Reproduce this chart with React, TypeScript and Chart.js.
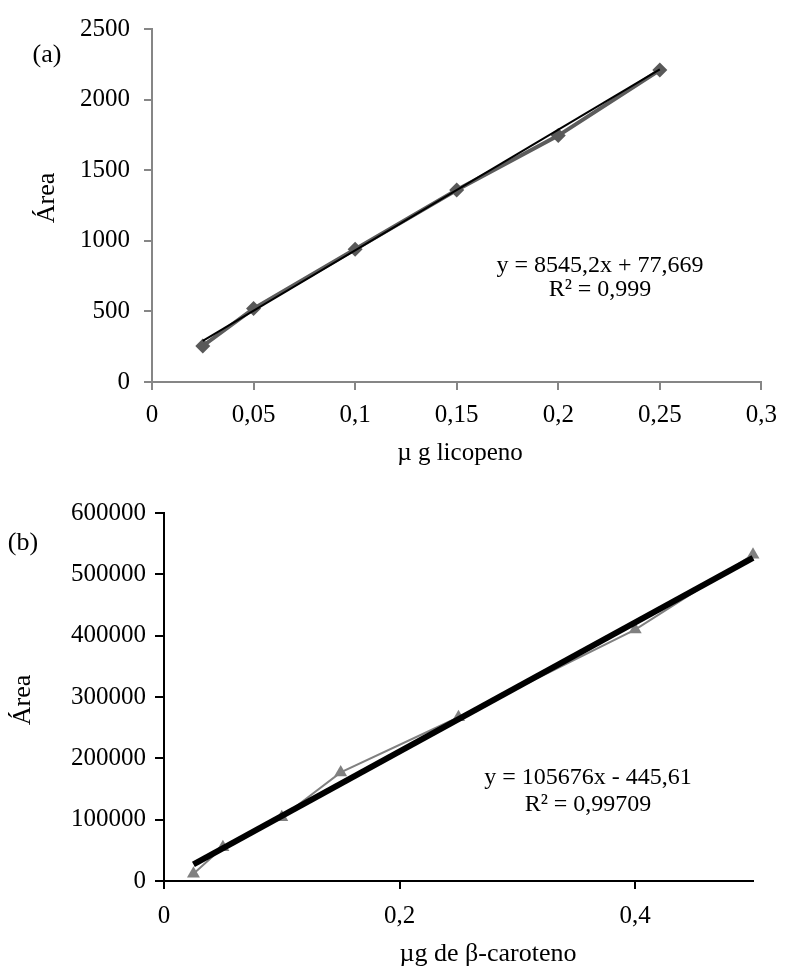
import React, { useEffect, useRef } from "react";
import { Chart, registerables } from "chart.js";

Chart.register(...registerables);

// ---------- Data: chart (a) licopeno ----------
const xA = [0.025, 0.05, 0.1, 0.15, 0.2, 0.25];
const yA = [255, 520, 940, 1360, 1745, 2210];
const trendAx = [0.025, 0.25];
const trendAy = [291, 2214];
const equationA = ["y = 8545,2x + 77,669", "R² = 0,999"];
const xTitleA = "µ g licopeno";
const yTitle = "Área";

// ---------- Data: chart (b) beta-caroteno ----------
const xB = [0.025, 0.05, 0.1, 0.15, 0.25, 0.4, 0.5];
const yB = [12000, 55000, 104000, 177000, 267000, 410000, 532000];
const trendBx = [0.025, 0.5];
const trendBy = [27000, 527000];
const xTickValuesB = [0, 0.2, 0.4];
const equationB = ["y = 105676x - 445,61", "R² = 0,99709"];
const xTitleB = "µg de β-caroteno";

const FONT = '"Liberation Serif", "Times New Roman", serif';
const TICK_SIZE = 25;
const TITLE_SIZE = 26;

const fmtDec = (v: number) => String(Math.round(v * 1000) / 1000).replace(".", ",");

type TextItem = { text: string; x: number; y: number; size: number; rot?: number };

const textPlugin = (items: TextItem[]) => ({
  id: "texts",
  afterDraw(chart: any) {
    const ctx = chart.ctx;
    for (const it of items) {
      ctx.save();
      ctx.font = `${it.size}px ${FONT}`;
      ctx.fillStyle = "#000";
      ctx.textAlign = "center";
      ctx.textBaseline = "middle";
      ctx.translate(it.x, it.y);
      if (it.rot) ctx.rotate(it.rot);
      ctx.fillText(it.text, 0, 0);
      ctx.restore();
    }
  },
});

export default function App() {
  const refA = useRef<HTMLCanvasElement>(null);
  const refB = useRef<HTMLCanvasElement>(null);

  useEffect(() => {
    const grayA = "#868686";
    const chartA = new Chart(refA.current!, {
      type: "scatter",
      data: {
        datasets: [
          {
            data: trendAx.map((x, i) => ({ x, y: trendAy[i] })),
            showLine: true,
            borderColor: "#000",
            borderWidth: 2,
            pointRadius: 0,
            order: 0,
            clip: false,
          },
          {
            data: xA.map((x, i) => ({ x, y: yA[i] })),
            showLine: true,
            borderColor: "#5c5c5c",
            borderWidth: 4,
            pointStyle: "rectRot",
            pointRadius: 7.5,
            pointBackgroundColor: "#595959",
            pointBorderColor: "#595959",
            pointBorderWidth: 0,
            order: 1,
            clip: false,
          },
        ],
      },
      options: {
        animation: false,
        responsive: false,
        devicePixelRatio: 1,
        layout: { padding: { top: 23, right: 18, bottom: 0, left: 0 } },
        plugins: { legend: { display: false }, tooltip: { enabled: false } },
        scales: {
          x: {
            type: "linear",
            min: 0,
            max: 0.3,
            ticks: {
              stepSize: 0.05,
              color: "#000",
              font: { family: FONT, size: TICK_SIZE },
              padding: 10,
              maxRotation: 0,
              callback: (v: any) => fmtDec(Number(v)),
            },
            grid: { drawOnChartArea: false, drawTicks: true, tickLength: 8, color: grayA, lineWidth: 2 },
            border: { display: true, color: grayA, width: 2 },
            afterFit: (s: any) => {
              s.height = 98;
            },
          },
          y: {
            type: "linear",
            min: 0,
            max: 2500,
            ticks: {
              stepSize: 500,
              color: "#000",
              font: { family: FONT, size: TICK_SIZE },
              padding: 14,
              callback: (v: any) => String(v),
            },
            grid: { drawOnChartArea: false, drawTicks: true, tickLength: 8, color: grayA, lineWidth: 2 },
            border: { display: true, color: grayA, width: 2 },
            afterFit: (s: any) => {
              s.width = 152;
            },
          },
        },
      },
      plugins: [
        textPlugin([
          { text: "(a)", x: 47, y: 55, size: TITLE_SIZE },
          { text: yTitle, x: 47, y: 198, size: TITLE_SIZE, rot: -Math.PI / 2 },
          { text: xTitleA, x: 460, y: 453, size: 25 },
          { text: equationA[0], x: 600, y: 266, size: 24 },
          { text: equationA[1], x: 600, y: 290, size: 24 },
        ]),
      ],
    } as any);

    const chartB = new Chart(refB.current!, {
      type: "scatter",
      data: {
        datasets: [
          {
            data: trendBx.map((x, i) => ({ x, y: trendBy[i] })),
            showLine: true,
            borderColor: "#000",
            borderWidth: 6,
            pointRadius: 0,
            order: 0,
            clip: false,
          },
          {
            data: xB.map((x, i) => ({ x, y: yB[i] })),
            showLine: true,
            borderColor: "#808080",
            borderWidth: 2,
            pointStyle: "triangle",
            pointRadius: 7.5,
            pointBackgroundColor: "#808080",
            pointBorderColor: "#808080",
            pointBorderWidth: 0,
            order: 1,
            clip: false,
          },
        ],
      },
      options: {
        animation: false,
        responsive: false,
        devicePixelRatio: 1,
        layout: { padding: { top: 33, right: 34, bottom: 0, left: 0 } },
        plugins: { legend: { display: false }, tooltip: { enabled: false } },
        scales: {
          x: {
            type: "linear",
            min: 0,
            max: 0.5,
            afterBuildTicks: (s: any) => {
              s.ticks = xTickValuesB.map((value) => ({ value }));
            },
            ticks: {
              color: "#000",
              font: { family: FONT, size: TICK_SIZE },
              padding: 12,
              maxRotation: 0,
              callback: (v: any) => fmtDec(Number(v)),
            },
            grid: { drawOnChartArea: false, drawTicks: true, tickLength: 8, color: "#000", lineWidth: 2 },
            border: { display: true, color: "#000", width: 2 },
            afterFit: (s: any) => {
              s.height = 89;
            },
          },
          y: {
            type: "linear",
            min: 0,
            max: 600000,
            ticks: {
              stepSize: 100000,
              color: "#000",
              font: { family: FONT, size: TICK_SIZE },
              padding: 9,
              callback: (v: any) => String(v),
            },
            grid: { drawOnChartArea: false, drawTicks: true, tickLength: 9, color: "#000", lineWidth: 2 },
            border: { display: true, color: "#000", width: 2 },
            afterFit: (s: any) => {
              s.width = 164;
            },
          },
        },
      },
      plugins: [
        textPlugin([
          { text: "(b)", x: 23, y: 63, size: TITLE_SIZE },
          { text: yTitle, x: 23, y: 220, size: TITLE_SIZE, rot: -Math.PI / 2 },
          { text: xTitleB, x: 488, y: 474, size: TITLE_SIZE },
          { text: equationB[0], x: 588, y: 298, size: 24 },
          { text: equationB[1], x: 588, y: 325, size: 24 },
        ]),
      ],
    } as any);

    return () => {
      chartA.destroy();
      chartB.destroy();
    };
  }, []);

  return (
    <div style={{ position: "absolute", left: 0, top: 0, width: 787, height: 970, background: "#fff" }}>
      <canvas ref={refA} width={787} height={480} style={{ position: "absolute", left: 0, top: 0, width: 787, height: 480 }} />
      <canvas ref={refB} width={787} height={490} style={{ position: "absolute", left: 0, top: 480, width: 787, height: 490 }} />
    </div>
  );
}
